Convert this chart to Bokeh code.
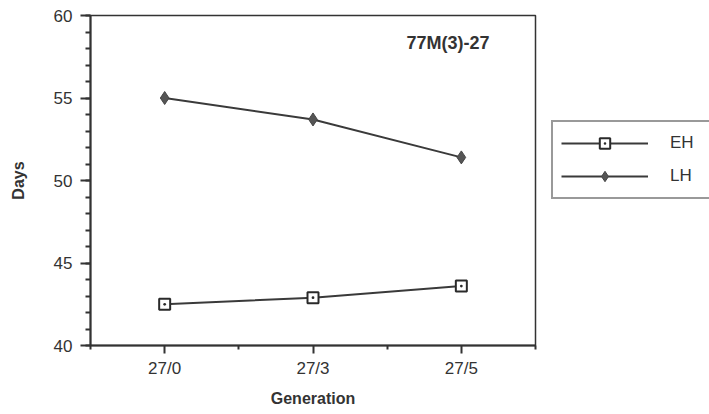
from bokeh.plotting import figure
from bokeh.models import (ColumnDataSource, FixedTicker, SingleIntervalTicker,
                          Range1d, Label, Legend, LegendItem)
from bokeh.embed import file_html
from bokeh.resources import INLINE

# ---- data ----
categories = ["27/0", "27/3", "27/5"]
eh_values = [42.5, 42.9, 43.6]
lh_values = [55.0, 53.7, 51.4]
y_ticks = [40, 45, 50, 55, 60]
title_text = "77M(3)-27"

xs = [i + 1 for i in range(len(categories))]
src = ColumnDataSource(dict(x=xs, eh=eh_values, lh=lh_values))

FONT = "Liberation Sans"
INK = "#333333"

p = figure(width=709, height=414, output_backend="svg", toolbar_location=None,
           x_range=Range1d(0.5, len(categories) + 0.5),
           y_range=Range1d(min(y_ticks), max(y_ticks)),
           min_border_left=90, min_border_right=174,
           min_border_top=15, min_border_bottom=69)
p.frame_width = 445
p.frame_height = 330
p.grid.visible = False
p.outline_line_color = INK
p.outline_line_width = 1.5
p.background_fill_color = "white"
p.border_fill_color = "white"

# x axis
p.xaxis.ticker = FixedTicker(ticks=xs,
                             minor_ticks=[x - 0.5 for x in xs] + [xs[-1] + 0.5])
p.xaxis.major_label_overrides = {x: c for x, c in zip(xs, categories)}
p.xaxis.axis_label = "Generation"
p.xaxis.major_tick_out = 8
p.xaxis.major_tick_in = 0
p.xaxis.minor_tick_out = 4
p.xaxis.minor_tick_in = 0
p.xaxis.major_label_standoff = 5
p.xaxis.axis_label_standoff = 9

# y axis
p.yaxis.ticker = SingleIntervalTicker(interval=5, num_minor_ticks=5)
p.yaxis.axis_label = "Days"
p.yaxis.major_tick_out = 10
p.yaxis.major_tick_in = 0
p.yaxis.minor_tick_out = 5
p.yaxis.minor_tick_in = 0
p.yaxis.major_label_standoff = 8
p.yaxis.axis_label_standoff = 24

for ax in (p.xaxis, p.yaxis):
    ax.axis_line_color = INK
    ax.axis_line_width = 2
    ax.major_tick_line_color = INK
    ax.major_tick_line_width = 2
    ax.minor_tick_line_color = INK
    ax.minor_tick_line_width = 2
    ax.major_label_text_font = FONT
    ax.major_label_text_font_size = "17px"
    ax.major_label_text_color = INK
    ax.axis_label_text_font = FONT
    ax.axis_label_text_font_size = "16px"
    ax.axis_label_text_font_style = "bold"
    ax.axis_label_text_color = INK

# series
eh_line = p.line("x", "eh", source=src, line_color="#3a3a3a", line_width=2)
eh_pts = p.scatter("x", "eh", source=src, marker="square_dot", size=11,
                   fill_color="white", line_color="#2a2a2a", line_width=2)
lh_line = p.line("x", "lh", source=src, line_color="#3a3a3a", line_width=2)
lh_pts = p.scatter("x", "lh", source=src, marker="diamond", size=13,
                   fill_color="#555555", line_color="#444444", line_width=1)

p.add_layout(Label(x=2.91, y=58.36, text=title_text, text_align="center",
                   text_baseline="middle", text_font=FONT,
                   text_font_size="18px", text_font_style="bold",
                   text_color=INK))

legend = Legend(items=[LegendItem(label="EH", renderers=[eh_line, eh_pts]),
                       LegendItem(label="LH", renderers=[lh_line, lh_pts])],
                location=(16, 146))
legend.border_line_color = INK
legend.border_line_width = 2
legend.background_fill_alpha = 0
legend.padding = 8
legend.spacing = 7
legend.glyph_height = 26
legend.glyph_width = 87
legend.label_standoff = 22
legend.label_width = 55
legend.label_text_font = FONT
legend.label_text_font_size = "17px"
legend.label_text_color = INK
legend.margin = 0
p.add_layout(legend, "right")

open("out.html", "w").write(file_html(p, INLINE))
